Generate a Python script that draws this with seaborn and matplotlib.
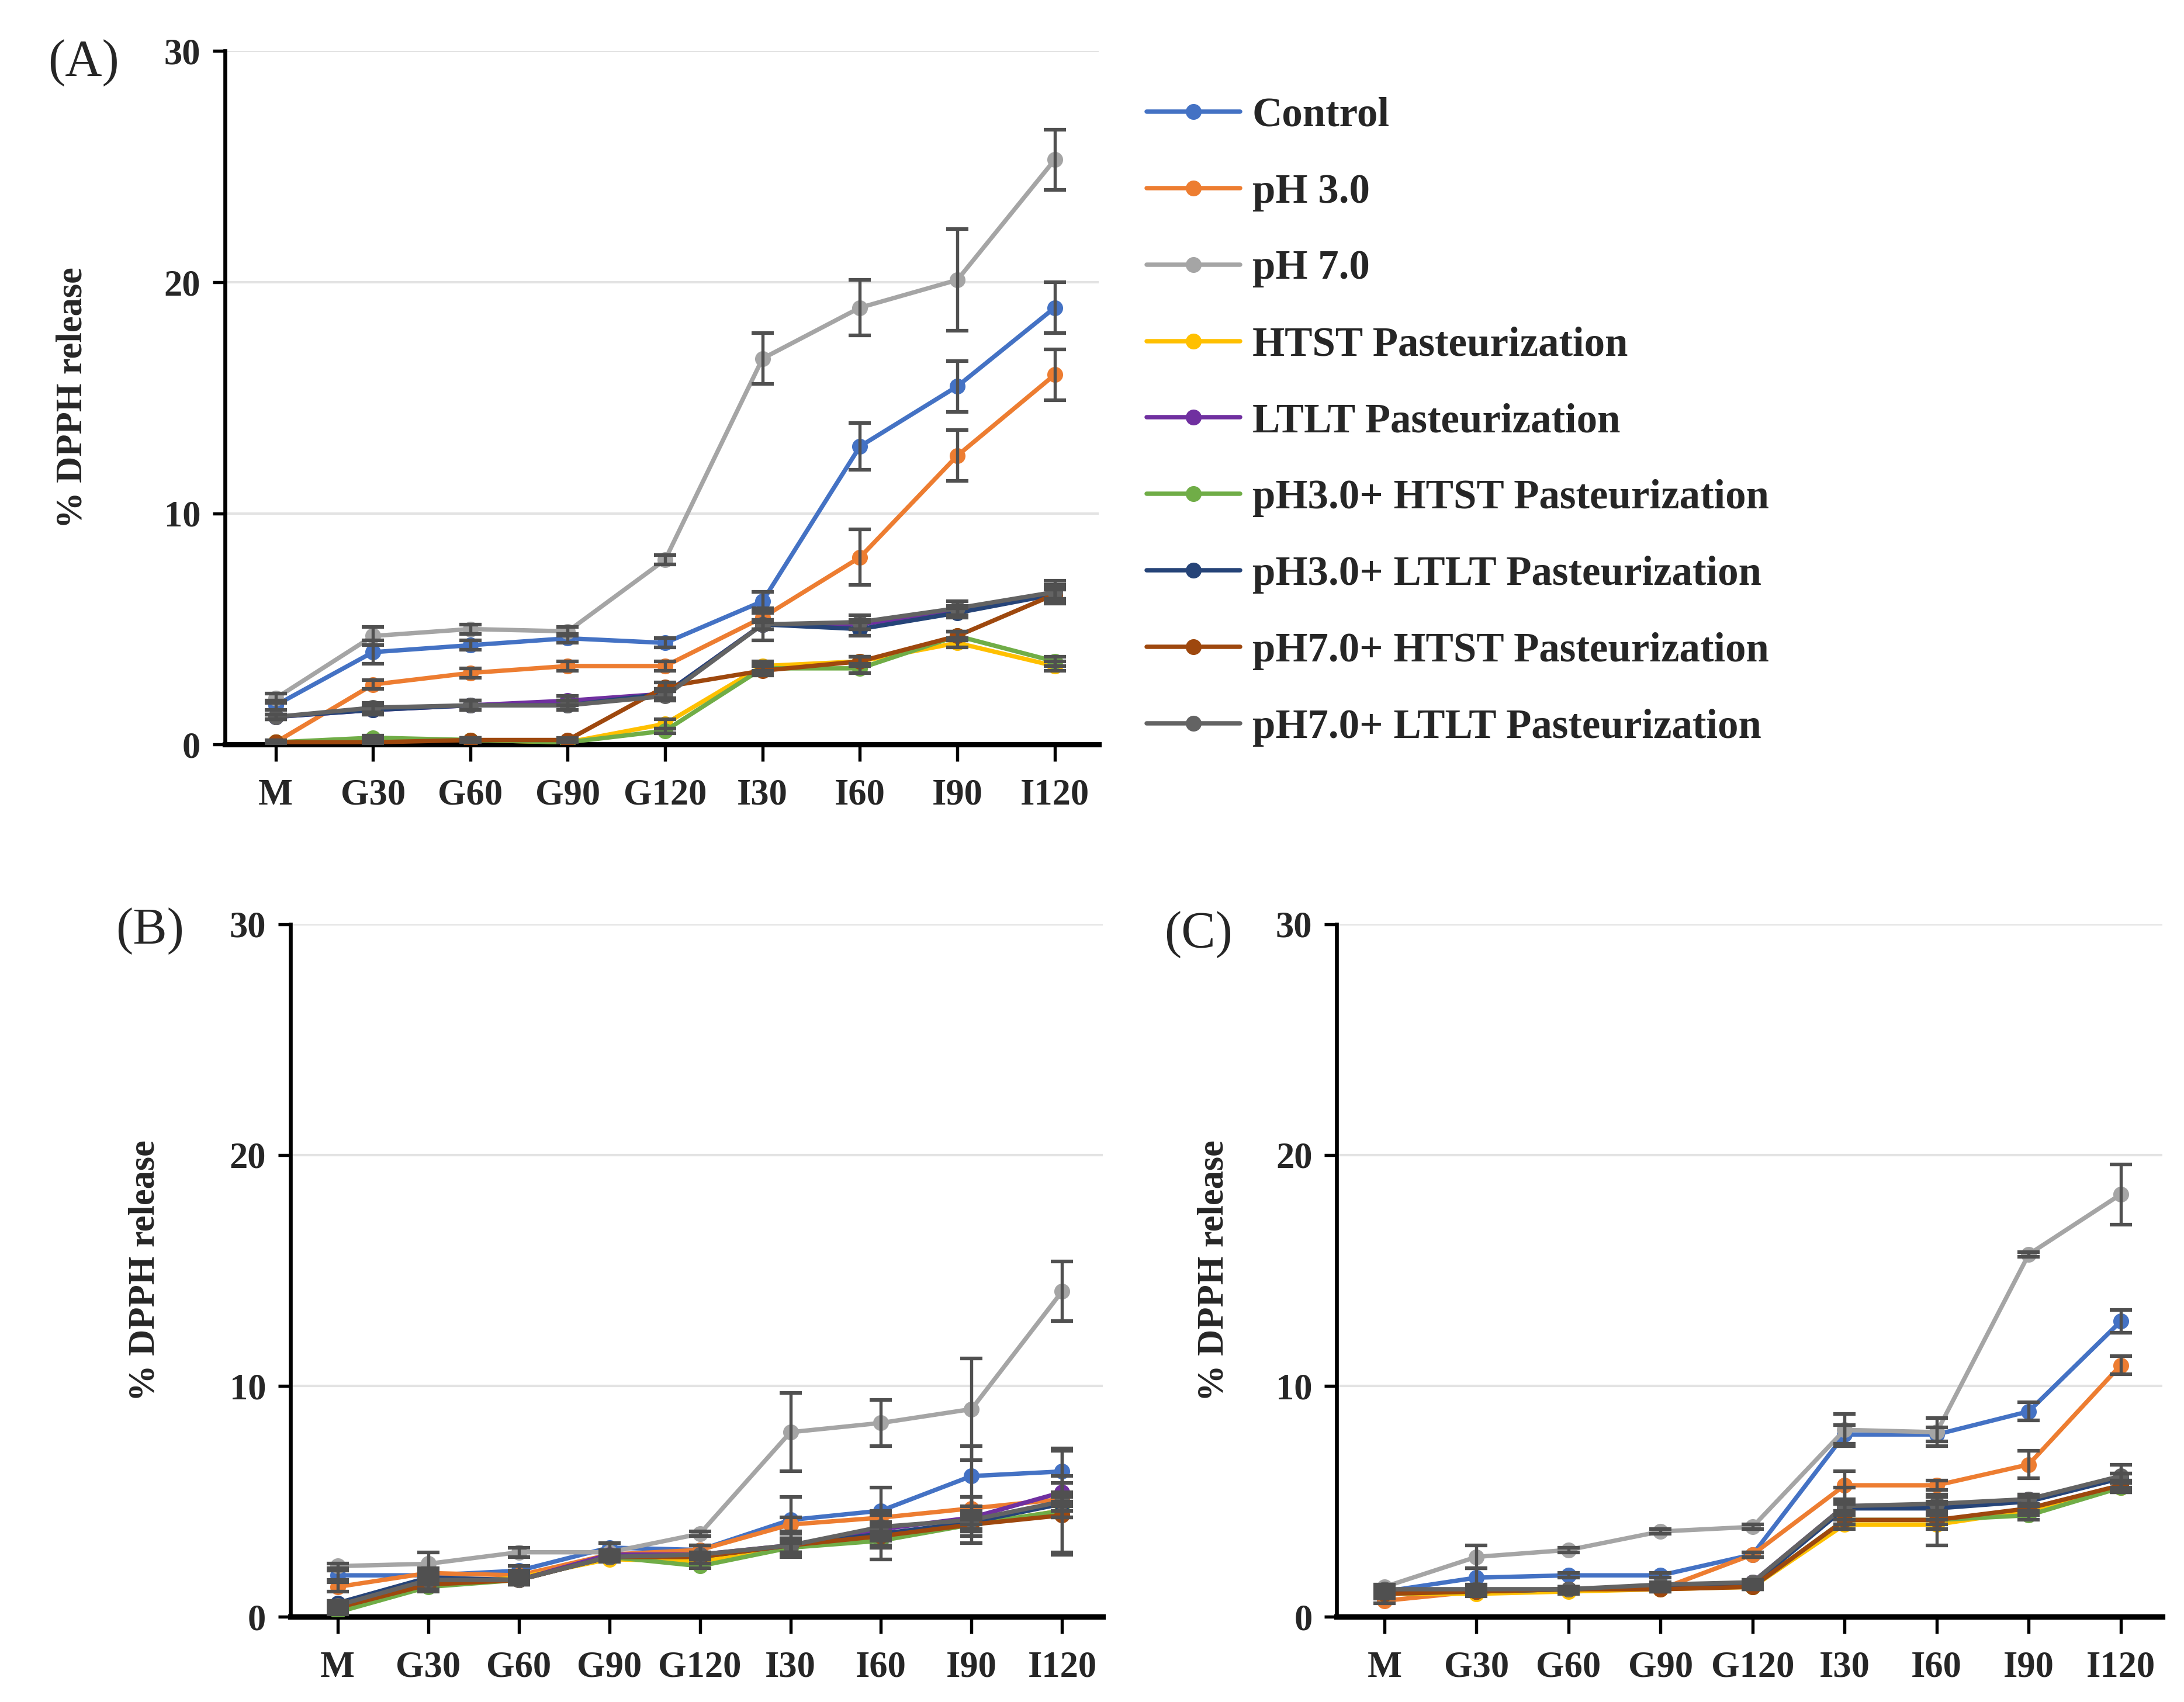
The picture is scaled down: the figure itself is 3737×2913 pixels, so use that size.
import pandas as pd
import seaborn as sns
import matplotlib.pyplot as plt
from matplotlib.lines import Line2D

# Categories (digestion stages) and series
stages = ['M', 'G30', 'G60', 'G90', 'G120', 'I30', 'I60', 'I90', 'I120']
series_names = ['Control', 'pH 3.0', 'pH 7.0', 'HTST Pasteurization', 'LTLT Pasteurization',
                'pH3.0+ HTST Pasteurization', 'pH3.0+ LTLT Pasteurization',
                'pH7.0+ HTST Pasteurization', 'pH7.0+ LTLT Pasteurization']
colors = ['#4472C4', '#ED7D31', '#A5A5A5', '#FFC000', '#7030A0',
          '#70AD47', '#264478', '#9E480E', '#636363']

# Panel A
A_control = [1.7, 4.0, 4.3, 4.6, 4.4, 6.2, 12.9, 15.5, 18.9]
A_ph3 = [0.1, 2.6, 3.1, 3.4, 3.4, 5.5, 8.1, 12.5, 16.0]
A_ph7 = [2.0, 4.7, 5.0, 4.9, 8.0, 16.7, 18.9, 20.1, 25.3]
A_htst = [0.1, 0.2, 0.2, 0.1, 0.9, 3.4, 3.6, 4.4, 3.4]
A_ltlt = [1.2, 1.5, 1.7, 1.9, 2.2, 5.2, 5.2, 5.8, 6.6]
A_ph3_htst = [0.1, 0.3, 0.2, 0.1, 0.6, 3.3, 3.3, 4.7, 3.6]
A_ph3_ltlt = [1.2, 1.5, 1.7, 1.7, 2.2, 5.2, 5.0, 5.7, 6.5]
A_ph7_htst = [0.1, 0.1, 0.2, 0.2, 2.5, 3.2, 3.6, 4.7, 6.5]
A_ph7_ltlt = [1.2, 1.6, 1.7, 1.7, 2.1, 5.2, 5.3, 5.9, 6.6]

A_control_err = [0.2, 0.5, 0.2, 0.2, 0.2, 0.4, 1.0, 1.1, 1.1]
A_ph3_err = [0.1, 0.2, 0.2, 0.2, 0.2, 0.2, 1.2, 1.1, 1.1]
A_ph7_err = [0.2, 0.4, 0.2, 0.2, 0.2, 1.1, 1.2, 2.2, 1.3]
A_htst_err = [0.0, 0.1, 0.1, 0.0, 0.2, 0.2, 0.2, 0.2, 0.2]
A_ltlt_err = [0.1, 0.2, 0.2, 0.2, 0.2, 0.2, 0.2, 0.2, 0.3]
A_ph3_htst_err = [0.0, 0.1, 0.1, 0.0, 0.1, 0.2, 0.2, 0.2, 0.2]
A_ph3_ltlt_err = [0.1, 0.2, 0.2, 0.2, 0.2, 0.2, 0.3, 0.2, 0.3]
A_ph7_htst_err = [0.1, 0.1, 0.1, 0.1, 0.2, 0.2, 0.2, 0.2, 0.2]
A_ph7_ltlt_err = [0.1, 0.2, 0.2, 0.2, 0.2, 0.7, 0.3, 0.3, 0.5]

# Panel B
B_control = [1.8, 1.8, 2.0, 3.0, 2.9, 4.2, 4.6, 6.1, 6.3]
B_ph3 = [1.3, 1.9, 1.8, 2.7, 2.9, 4.0, 4.3, 4.7, 5.1]
B_ph7 = [2.2, 2.3, 2.8, 2.8, 3.6, 8.0, 8.4, 9.0, 14.1]
B_htst = [0.3, 1.4, 1.7, 2.5, 2.4, 3.1, 3.4, 4.0, 4.6]
B_ltlt = [0.5, 1.6, 1.6, 2.7, 2.7, 3.1, 3.8, 4.3, 5.4]
B_ph3_htst = [0.2, 1.3, 1.6, 2.6, 2.2, 3.0, 3.3, 4.0, 4.6]
B_ph3_ltlt = [0.6, 1.7, 1.6, 2.6, 2.6, 3.1, 3.6, 4.1, 4.9]
B_ph7_htst = [0.4, 1.4, 1.6, 2.6, 2.6, 3.1, 3.5, 4.0, 4.4]
B_ph7_ltlt = [0.5, 1.6, 1.6, 2.6, 2.7, 3.1, 3.9, 4.2, 5.0]

B_control_err = [0.2, 0.2, 0.2, 0.2, 0.2, 1.0, 1.0, 1.3, 1.0]
B_ph3_err = [0.2, 0.2, 0.2, 0.1, 0.2, 0.3, 0.3, 0.5, 0.3]
B_ph7_err = [0.1, 0.5, 0.2, 0.1, 0.1, 1.7, 1.0, 2.2, 1.3]
B_htst_err = [0.1, 0.2, 0.2, 0.1, 0.1, 0.3, 0.3, 0.3, 0.3]
B_ltlt_err = [0.1, 0.2, 0.2, 0.1, 0.1, 0.3, 0.3, 0.3, 0.4]
B_ph3_htst_err = [0.1, 0.2, 0.1, 0.1, 0.1, 0.3, 0.3, 0.3, 0.3]
B_ph3_ltlt_err = [0.1, 0.2, 0.2, 0.1, 0.1, 0.3, 0.3, 0.3, 0.3]
B_ph7_htst_err = [0.1, 0.2, 0.2, 0.1, 0.1, 0.3, 1.0, 0.5, 1.7]
B_ph7_ltlt_err = [0.2, 0.2, 0.2, 0.1, 0.1, 0.5, 0.5, 1.0, 2.2]

# Panel C
C_control = [1.1, 1.7, 1.8, 1.8, 2.7, 7.9, 7.9, 8.9, 12.8]
C_ph3 = [0.7, 1.1, 1.2, 1.2, 2.7, 5.7, 5.7, 6.6, 10.9]
C_ph7 = [1.3, 2.6, 2.9, 3.7, 3.9, 8.1, 8.0, 15.7, 18.3]
C_htst = [1.0, 1.0, 1.1, 1.2, 1.3, 4.0, 4.0, 4.6, 5.6]
C_ltlt = [1.1, 1.1, 1.2, 1.3, 1.5, 4.8, 4.8, 5.1, 6.0]
C_ph3_htst = [1.0, 1.1, 1.2, 1.3, 1.3, 4.2, 4.2, 4.4, 5.6]
C_ph3_ltlt = [1.1, 1.1, 1.2, 1.3, 1.4, 4.7, 4.7, 5.0, 6.0]
C_ph7_htst = [1.0, 1.1, 1.2, 1.2, 1.3, 4.2, 4.2, 4.7, 5.7]
C_ph7_ltlt = [1.2, 1.2, 1.2, 1.4, 1.5, 4.8, 4.9, 5.1, 6.1]

C_control_err = [0.1, 0.4, 0.1, 0.1, 0.1, 0.4, 0.3, 0.4, 0.5]
C_ph3_err = [0.1, 0.1, 0.1, 0.1, 0.1, 0.6, 0.2, 0.6, 0.4]
C_ph7_err = [0.1, 0.5, 0.1, 0.1, 0.1, 0.7, 0.6, 0.1, 1.3]
C_htst_err = [0.1, 0.1, 0.1, 0.1, 0.1, 0.2, 0.2, 0.2, 0.2]
C_ltlt_err = [0.1, 0.1, 0.1, 0.1, 0.1, 0.2, 0.2, 0.2, 0.2]
C_ph3_htst_err = [0.1, 0.1, 0.1, 0.1, 0.1, 0.2, 0.2, 0.2, 0.2]
C_ph3_ltlt_err = [0.1, 0.1, 0.1, 0.1, 0.1, 0.2, 0.2, 0.2, 0.2]
C_ph7_htst_err = [0.1, 0.1, 0.1, 0.1, 0.1, 0.2, 1.1, 0.2, 0.2]
C_ph7_ltlt_err = [0.1, 0.2, 0.1, 0.1, 0.1, 0.8, 0.3, 0.2, 0.5]

panel_A = [A_control, A_ph3, A_ph7, A_htst, A_ltlt, A_ph3_htst, A_ph3_ltlt, A_ph7_htst, A_ph7_ltlt]
panel_A_err = [A_control_err, A_ph3_err, A_ph7_err, A_htst_err, A_ltlt_err, A_ph3_htst_err,
               A_ph3_ltlt_err, A_ph7_htst_err, A_ph7_ltlt_err]
panel_B = [B_control, B_ph3, B_ph7, B_htst, B_ltlt, B_ph3_htst, B_ph3_ltlt, B_ph7_htst, B_ph7_ltlt]
panel_B_err = [B_control_err, B_ph3_err, B_ph7_err, B_htst_err, B_ltlt_err, B_ph3_htst_err,
               B_ph3_ltlt_err, B_ph7_htst_err, B_ph7_ltlt_err]
panel_C = [C_control, C_ph3, C_ph7, C_htst, C_ltlt, C_ph3_htst, C_ph3_ltlt, C_ph7_htst, C_ph7_ltlt]
panel_C_err = [C_control_err, C_ph3_err, C_ph7_err, C_htst_err, C_ltlt_err, C_ph3_htst_err,
               C_ph3_ltlt_err, C_ph7_htst_err, C_ph7_ltlt_err]

sns.set_theme(style='white')
plt.rcParams['font.family'] = ['Liberation Serif', 'DejaVu Serif']

fig = plt.figure(figsize=(3737 / 300, 2913 / 300), dpi=300)
ax_a = fig.add_axes([0.103, 0.5625, 0.400, 0.4075])
ax_b = fig.add_axes([0.133, 0.050, 0.372, 0.407])
ax_c = fig.add_axes([0.612, 0.050, 0.378, 0.407])


def draw_panel(ax, values, errors, label_x):
    rows = []
    for name, vals in zip(series_names, values):
        for st, v in zip(stages, vals):
            rows.append({'Stage': st, 'Series': name, 'Value': v})
    df = pd.DataFrame(rows)

    # horizontal gridlines behind everything
    for yv in [10, 20, 30]:
        ax.axhline(yv, color='#E3E3E3', lw=1.0, zorder=0)

    sns.lineplot(data=df, x='Stage', y='Value', hue='Series', hue_order=series_names,
                 palette=colors, marker='o', markersize=6.5, markeredgewidth=0,
                 linewidth=1.8, sort=False, errorbar=None, legend=False, ax=ax, zorder=3)

    for vals, errs in zip(values, errors):
        ax.errorbar(stages, vals, yerr=errs, fmt='none', ecolor='#505050',
                    elinewidth=1.3, capsize=4.5, capthick=1.5, zorder=4)

    ax.set_xlim(-0.52, 8.45)
    ax.set_ylim(0, 30)
    ax.set_yticks([0, 10, 20, 30])
    ax.set_xlabel('')
    ax.set_ylabel('% DPPH release', fontsize=15, fontweight='bold')
    ax.yaxis.set_label_coords(label_x, 0.5)
    sns.despine(ax=ax)
    ax.spines['left'].set_color('black')
    ax.spines['left'].set_linewidth(1.6)
    ax.spines['bottom'].set_color('black')
    ax.spines['bottom'].set_linewidth(2.2)
    ax.tick_params(axis='x', direction='out', length=7, width=1.3, color='black',
                   pad=7, labelsize=15, bottom=True)
    ax.tick_params(axis='y', direction='out', length=5, width=1.3, color='black',
                   pad=5, labelsize=15, left=True)
    for lab in ax.get_xticklabels() + ax.get_yticklabels():
        lab.set_fontweight('bold')


draw_panel(ax_a, panel_A, panel_A_err, -0.155)
draw_panel(ax_b, panel_B, panel_B_err, -0.158)
draw_panel(ax_c, panel_C, panel_C_err, -0.128)

# panel letters
fig.text(0.022, 0.963, '(A)', fontsize=21, va='center', ha='left')
fig.text(0.053, 0.453, '(B)', fontsize=21, va='center', ha='left')
fig.text(0.533, 0.451, '(C)', fontsize=21, va='center', ha='left')

# legend for all panels
handles = [Line2D([0], [0], color=c, lw=1.8, marker='o', markersize=6.5, markeredgewidth=0)
           for c in colors]
leg = fig.legend(handles, series_names, loc='upper left', bbox_to_anchor=(0.508, 0.965),
                 frameon=False, handlelength=2.25, handletextpad=0.3, labelspacing=0.93,
                 prop={'family': 'Liberation Serif', 'weight': 'bold', 'size': 17})

fig.savefig('out.png', dpi=300)
